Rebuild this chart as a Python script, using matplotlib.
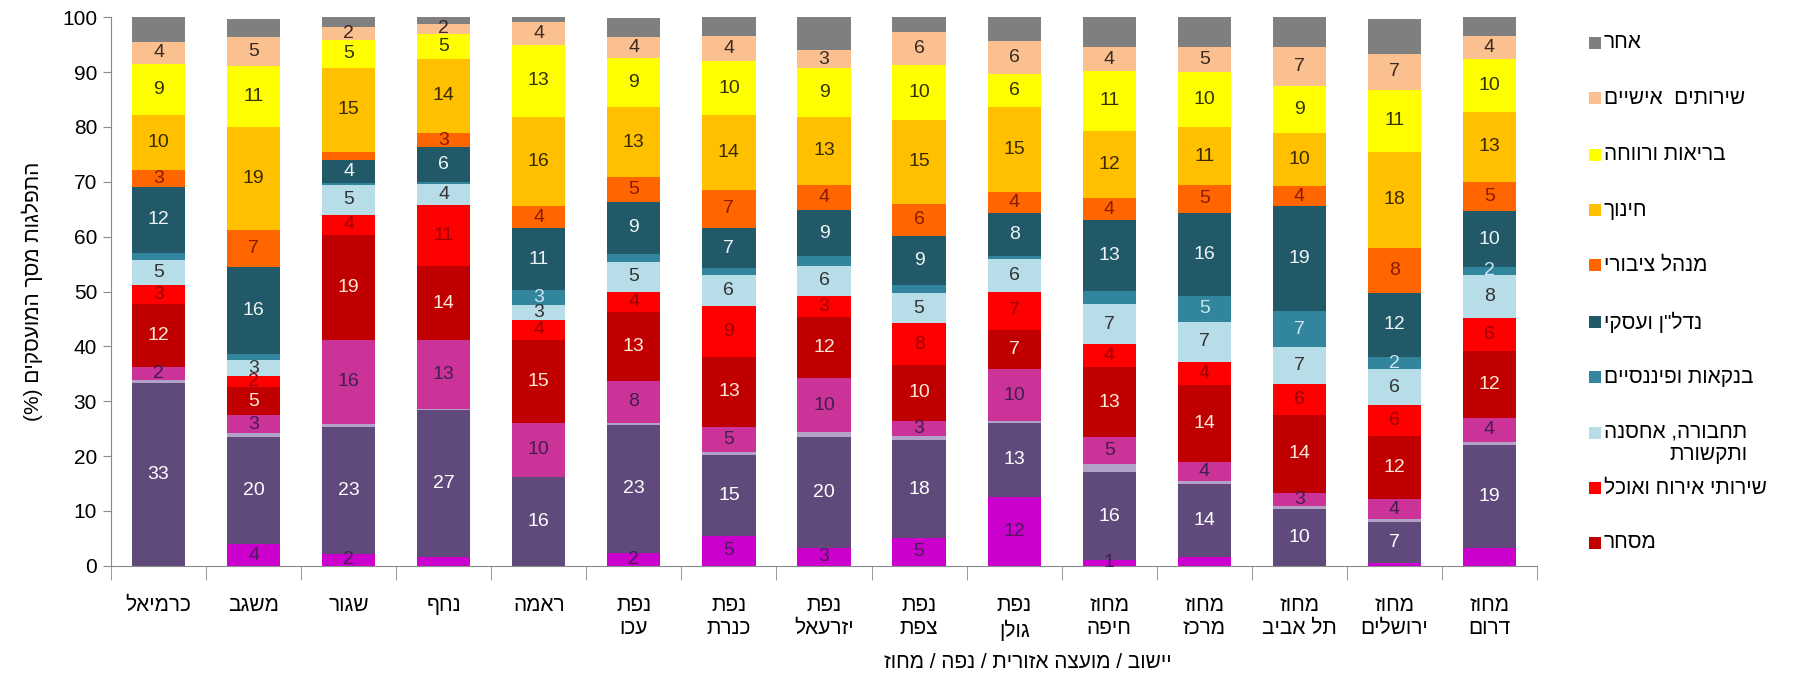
import matplotlib
matplotlib.use("Agg")
import matplotlib.pyplot as plt
import numpy as np
from matplotlib.patches import Rectangle

FONT = ["Liberation Sans", "DejaVu Sans"]
plt.rcParams["font.family"] = FONT

def vis(s):
    """Convert logical-order Hebrew text into visual (LTR drawing) order, line by line."""
    mirror = {"(": ")", ")": "(", "[": "]", "]": "["}
    return "\n".join("".join(mirror.get(c, c) for c in line[::-1]) for line in s.split("\n"))

categories = ["כרמיאל", "משגב", "שגור", "נחף", "ראמה",
              "נפת\nעכו", "נפת\nכנרת", "נפת\nיזרעאל", "נפת\nצפת", "נפת\nגולן",
              "מחוז\nחיפה", "מחוז\nמרכז", "מחוז\nתל אביב", "מחוז\nירושלים", "מחוז\nדרום"]

# series values (bottom to top)
agriculture   = [0.0, 3.9, 2.1, 1.5, 0.0, 2.4, 5.4, 3.2, 5.0, 12.6, 1.0, 1.5, 0.0, 0.5, 3.2]
industry      = [33.4, 19.6, 23.2, 26.9, 16.2, 23.3, 14.8, 20.3, 17.9, 13.4, 16.0, 13.4, 10.3, 7.5, 18.8]
electricity   = [0.5, 0.7, 0.5, 0.2, 0.0, 0.4, 0.6, 0.8, 0.7, 0.3, 1.5, 0.6, 0.5, 0.5, 0.6]
construction  = [2.4, 3.2, 15.4, 12.5, 9.9, 7.6, 4.5, 9.9, 2.8, 9.5, 4.9, 3.5, 2.5, 3.6, 4.3]
commerce      = [11.5, 5.1, 19.1, 13.6, 15.1, 12.6, 12.8, 11.2, 10.2, 7.2, 12.9, 13.9, 14.2, 11.5, 12.3]
hospitality   = [3.4, 2.1, 3.7, 11.1, 3.6, 3.7, 9.3, 3.8, 7.6, 7.0, 4.1, 4.3, 5.6, 5.7, 5.9]
transport     = [4.6, 2.9, 5.4, 3.8, 2.7, 5.4, 5.6, 5.5, 5.5, 6.0, 7.3, 7.3, 6.7, 6.5, 7.9]
banking       = [1.3, 1.1, 0.3, 0.4, 2.8, 1.5, 1.2, 1.7, 1.5, 0.4, 2.4, 4.7, 6.7, 2.2, 1.5]
real_estate   = [12.0, 15.8, 4.2, 6.3, 11.2, 9.4, 7.4, 8.4, 8.9, 8.0, 12.9, 15.2, 19.0, 11.8, 10.1]
public_admin  = [3.0, 6.8, 1.5, 2.6, 4.1, 4.5, 6.9, 4.6, 5.9, 3.8, 4.0, 5.0, 3.7, 8.1, 5.4]
education     = [10.0, 18.8, 15.4, 13.5, 16.2, 12.8, 13.6, 12.5, 15.3, 15.4, 12.3, 10.6, 9.7, 17.6, 12.8]
health        = [9.4, 11.2, 5.1, 4.6, 13.2, 9.0, 10.0, 8.8, 10.0, 6.1, 10.9, 10.0, 8.5, 11.3, 9.6]
personal      = [4.0, 5.2, 2.3, 1.8, 4.2, 3.8, 4.4, 3.3, 6.1, 6.0, 4.3, 4.6, 7.1, 6.5, 4.2]
other         = [4.6, 3.2, 2.0, 1.4, 0.8, 3.5, 3.5, 6.0, 2.6, 4.3, 5.5, 6.0, 5.7, 6.3, 3.6]

# data labels shown on the bars (None = not shown)
lbl_agriculture  = [None, 4, 2, None, None, 2, 5, 3, 5, 12, 1, None, None, None, None]
lbl_industry     = [33, 20, 23, 27, 16, 23, 15, 20, 18, 13, 16, 14, 10, 7, 19]
lbl_electricity  = [None] * 15
lbl_construction = [2, 3, 16, 13, 10, 8, 5, 10, 3, 10, 5, 4, 3, 4, 4]
lbl_commerce     = [12, 5, 19, 14, 15, 13, 13, 12, 10, 7, 13, 14, 14, 12, 12]
lbl_hospitality  = [3, 2, 4, 11, 4, 4, 9, 3, 8, 7, 4, 4, 6, 6, 6]
lbl_transport    = [5, 3, 5, 4, 3, 5, 6, 6, 5, 6, 7, 7, 7, 6, 8]
lbl_banking      = [None, None, None, None, 3, None, None, None, None, None, None, 5, 7, 2, 2]
lbl_real_estate  = [12, 16, 4, 6, 11, 9, 7, 9, 9, 8, 13, 16, 19, 12, 10]
lbl_public_admin = [3, 7, None, 3, 4, 5, 7, 4, 6, 4, 4, 5, 4, 8, 5]
lbl_education    = [10, 19, 15, 14, 16, 13, 14, 13, 15, 15, 12, 11, 10, 18, 13]
lbl_health       = [9, 11, 5, 5, 13, 9, 10, 9, 10, 6, 11, 10, 9, 11, 10]
lbl_personal     = [4, 5, 2, 2, 4, 4, 4, 3, 6, 6, 4, 5, 7, 7, 4]
lbl_other        = [None] * 15

series_names = ["חקלאות", "תעשייה", "חשמל ומים", "בינוי", "מסחר", "שירותי אירוח ואוכל",
                "תחבורה, אחסנה\nותקשורת", "בנקאות ופיננסיים", "נדל\"ן ועסקי", "מנהל ציבורי",
                "חינוך", "בריאות ורווחה", "שירותים  אישיים", "אחר"]
in_legend = [False, False, False, False, True, True, True, True, True, True, True, True, True, True]

series = [agriculture, industry, electricity, construction, commerce, hospitality, transport,
          banking, real_estate, public_admin, education, health, personal, other]
labels = [lbl_agriculture, lbl_industry, lbl_electricity, lbl_construction, lbl_commerce,
          lbl_hospitality, lbl_transport, lbl_banking, lbl_real_estate, lbl_public_admin,
          lbl_education, lbl_health, lbl_personal, lbl_other]
colors = ["#CC00CC", "#604A7B", "#B3A2C7", "#CC3399", "#C00000", "#FF0000", "#B7DEE8",
          "#31859C", "#215968", "#FF6600", "#FFC000", "#FFFF00", "#FAC090", "#7F7F7F"]
text_colors = ["#4A1A5A", "#FFFFFF", "#333333", "#3F1F4F", "#FFE8D8", "#9A0000", "#333333",
               "#CDE6F0", "#EEF4F6", "#8B1A00", "#3A2A00", "#333300", "#3A2A20", "#333333"]

W, H = 1802, 674
fig = plt.figure(figsize=(W / 100, H / 100), dpi=100)
ax = fig.add_axes([111 / W, 1 - 565.7 / H, (1537 - 111) / W, (565.7 - 17.3) / H])

x = np.arange(len(categories))
bottom = np.zeros(len(categories))
for vals, lbls, c, tc in zip(series, labels, colors, text_colors):
    vals = np.array(vals)
    ax.bar(x, vals, bottom=bottom, width=0.56, color=c, edgecolor="none")
    for xi, b, v, l in zip(x, bottom, vals, lbls):
        if l is not None:
            ax.text(xi, b + v / 2, str(l), ha="center", va="center", fontsize=14, color=tc)
    bottom = bottom + vals

ax.set_xlim(-0.5, len(categories) - 0.5)
ax.set_ylim(0, 100)
ax.set_yticks(np.arange(0, 101, 10))
ax.tick_params(axis="y", labelsize=15, length=6, color="#898989", pad=4)
ax.set_xticks(x)
ax.set_xticklabels([vis(c) for c in categories], fontsize=15, linespacing=1.25)
ax.tick_params(axis="x", which="major", length=0, pad=22)
ax.set_xticks(np.arange(-0.5, len(categories), 1), minor=True)
ax.tick_params(axis="x", which="minor", length=10, color="#898989")
for s in ["top", "right"]:
    ax.spines[s].set_visible(False)
for s in ["left", "bottom"]:
    ax.spines[s].set_color("#898989")

ax.set_ylabel(vis("התפלגות מסך המועסקים (%)"), fontsize=15, labelpad=14)
fig.text(1028 / W, 1 - 662 / H, vis("יישוב / מועצה אזורית / נפה / מחוז"),
         fontsize=15, ha="center", va="center")

# legend (right side), top to bottom
leg_y = [43, 98, 155, 210, 265, 322, 377, 433, 488, 543]
order = [i for i in range(len(series) - 1, -1, -1) if in_legend[i]]
for yy, i in zip(leg_y, order):
    fig.patches.append(Rectangle((1589 / W, 1 - (yy + 6) / H), 12 / W, 12 / H,
                                 transform=fig.transFigure, facecolor=colors[i],
                                 edgecolor="none"))
    two_line = "\n" in series_names[i]
    fig.text(1604 / W, 1 - (yy - 11) / H if two_line else 1 - yy / H, vis(series_names[i]),
             fontsize=15, ha="left", va="top" if two_line else "center",
             multialignment="right", linespacing=1.3)

fig.savefig("out.png", dpi=100)
